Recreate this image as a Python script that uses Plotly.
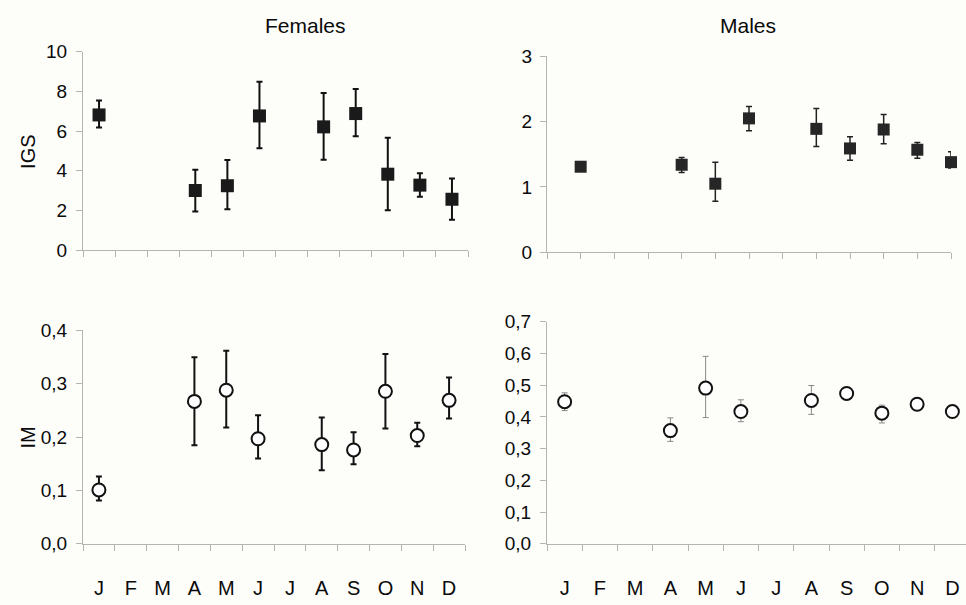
import plotly.graph_objects as go

months = ["J", "F", "M", "A", "M", "J", "J", "A", "S", "O", "N", "D"]
month_idx = [1, 2, 3, 4, 5, 6, 7, 8, 9, 10, 11, 12]

# Females IGS (Jan, Apr-Jun, Aug-Dec)
f_igs_x = [1, 4, 5, 6, 8, 9, 10, 11, 12]
f_igs = [6.81, 3.01, 3.25, 6.76, 6.21, 6.88, 3.83, 3.28, 2.57]
f_igs_hi = [7.54, 4.06, 4.55, 8.48, 7.91, 8.11, 5.66, 3.88, 3.62]
f_igs_lo = [6.18, 1.96, 2.07, 5.13, 4.56, 5.74, 2.02, 2.69, 1.54]

# Males IGS
m_igs_x = [1, 4, 5, 6, 8, 9, 10, 11, 12]
m_igs = [1.31, 1.34, 1.05, 2.05, 1.89, 1.59, 1.88, 1.57, 1.38]
m_igs_hi = [1.36, 1.45, 1.38, 2.23, 2.20, 1.77, 2.11, 1.68, 1.54]
m_igs_lo = [1.26, 1.22, 0.78, 1.86, 1.62, 1.41, 1.66, 1.44, 1.29]

# Females IM
f_im_x = [1, 4, 5, 6, 8, 9, 10, 11, 12]
f_im = [0.101, 0.267, 0.288, 0.197, 0.186, 0.176, 0.286, 0.203, 0.269]
f_im_hi = [0.126, 0.350, 0.362, 0.241, 0.237, 0.209, 0.356, 0.227, 0.312]
f_im_lo = [0.081, 0.185, 0.218, 0.160, 0.138, 0.149, 0.216, 0.183, 0.235]

# Males IM
m_im_x = [1, 4, 5, 6, 8, 9, 10, 11, 12]
m_im = [0.448, 0.357, 0.491, 0.417, 0.452, 0.474, 0.412, 0.440, 0.417]
m_im_hi = [0.476, 0.397, 0.591, 0.454, 0.499, 0.484, 0.437, 0.450, 0.427]
m_im_lo = [0.420, 0.323, 0.398, 0.385, 0.408, 0.464, 0.381, 0.430, 0.407]

f_igs_ticks = [0, 2, 4, 6, 8, 10]
m_igs_ticks = [0, 1, 2, 3]
f_im_ticks = [0.0, 0.1, 0.2, 0.3, 0.4]
m_im_ticks = [0.0, 0.1, 0.2, 0.3, 0.4, 0.5, 0.6, 0.7]


def err(vals, hi, lo):
    return dict(type="data", symmetric=False,
                array=[h - v for h, v in zip(hi, vals)],
                arrayminus=[v - l for v, l in zip(vals, lo)])


W, H = 966, 605
FONT = "Liberation Sans, Arial, sans-serif"
AX = "#b4b4b4"
BG = "#fdfdfa"
TXT = "#0a0a0a"

fig = go.Figure()

e = err(f_igs, f_igs_hi, f_igs_lo)
e.update(color="#111", thickness=2, width=3)
fig.add_trace(go.Scatter(x=f_igs_x, y=f_igs, mode="markers", xaxis="x", yaxis="y",
                         marker=dict(symbol="square", size=13, color="#1a1a1a"),
                         error_y=e, showlegend=False, cliponaxis=False))

e = err(m_igs, m_igs_hi, m_igs_lo)
e.update(color="#222", thickness=1.5, width=3)
fig.add_trace(go.Scatter(x=m_igs_x, y=m_igs, mode="markers", xaxis="x2", yaxis="y2",
                         marker=dict(symbol="square", size=12, color="#262626"),
                         error_y=e, showlegend=False, cliponaxis=False))

e = err(f_im, f_im_hi, f_im_lo)
e.update(color="#111", thickness=2, width=3)
fig.add_trace(go.Scatter(x=f_im_x, y=f_im, mode="markers", xaxis="x3", yaxis="y3",
                         marker=dict(symbol="circle", size=13, color="white",
                                     line=dict(color="#111", width=2)),
                         error_y=e, showlegend=False, cliponaxis=False))

e = err(m_im, m_im_hi, m_im_lo)
e.update(color="#888", thickness=1, width=3)
fig.add_trace(go.Scatter(x=m_im_x, y=m_im, mode="markers", xaxis="x4", yaxis="y4",
                         marker=dict(symbol="circle", size=13, color="white",
                                     line=dict(color="#111", width=2)),
                         error_y=e, showlegend=False, cliponaxis=False))


def px_x(a, b):
    return [a / W, b / W]


def px_y(top, bottom):
    return [1 - bottom / H, 1 - top / H]


tickfont = dict(family=FONT, size=19, color=TXT)
monthfont = dict(family=FONT, size=20, color=TXT)
bounds = [m - 0.5 for m in month_idx] + [12.5]

common_x = dict(showline=True, linecolor=AX, linewidth=1, showgrid=False, zeroline=False,
                fixedrange=True)
common_y = dict(showline=True, linecolor=AX, linewidth=1, showgrid=False, zeroline=False,
                ticks="outside", tickcolor=AX, ticklen=6, tickfont=tickfont, fixedrange=True)

fig.update_layout(
    width=W, height=H, margin=dict(l=0, r=0, t=0, b=0),
    paper_bgcolor=BG, plot_bgcolor=BG,
    font=dict(family=FONT, color=TXT),
    xaxis=dict(domain=px_x(83, 468), range=[0.5, 12.5], anchor="y",
               tickvals=bounds, showticklabels=False,
               ticks="outside", tickcolor=AX, ticklen=6, **common_x),
    yaxis=dict(domain=px_y(43, 249), range=[0, 10], anchor="x",
               tickvals=f_igs_ticks, ticklabelstandoff=5, **common_y),
    xaxis2=dict(domain=px_x(547, 951), range=[0, 12], anchor="y2",
                tickvals=[0] + month_idx, showticklabels=False,
                ticks="outside", tickcolor=AX, ticklen=6, **common_x),
    yaxis2=dict(domain=px_y(48, 251), range=[0, 3], anchor="x2",
                tickvals=m_igs_ticks, ticklabelstandoff=4, **common_y),
    xaxis3=dict(domain=px_x(83, 465), range=[0.5, 12.5], anchor="y3",
                tickvals=month_idx, ticktext=months, tickfont=monthfont,
                ticklabelstandoff=26, ticks="",
                minor=dict(tickvals=bounds, ticks="outside", ticklen=6, tickcolor=AX),
                **common_x),
    yaxis3=dict(domain=px_y(332, 553), range=[0, 0.4], anchor="x3",
                tickvals=f_im_ticks, ticktext=["0,0", "0,1", "0,2", "0,3", "0,4"],
                ticklabelstandoff=5, **common_y),
    xaxis4=dict(domain=px_x(547, 966), range=[0.5, 0.5 + 419 / 35.25], anchor="y4",
                tickvals=month_idx, ticktext=months, tickfont=monthfont,
                ticklabelstandoff=26, ticks="",
                minor=dict(tickvals=bounds, ticks="outside", ticklen=6, tickcolor=AX),
                **common_x),
    yaxis4=dict(domain=px_y(323, 553), range=[0, 0.7], anchor="x4",
                tickvals=m_im_ticks,
                ticktext=["0,0", "0,1", "0,2", "0,3", "0,4", "0,5", "0,6", "0,7"],
                ticklabelstandoff=5, **common_y),
)

ann = [
    dict(text="Females", x=305 / W, y=1 - 16 / H, font=dict(size=21, family=FONT, color=TXT)),
    dict(text="Males", x=748 / W, y=1 - 16 / H, font=dict(size=21, family=FONT, color=TXT)),
    dict(text="IGS", x=28 / W, y=1 - 147 / H, textangle=-90, font=dict(size=20, family=FONT, color=TXT)),
    dict(text="IM", x=28 / W, y=1 - 443 / H, textangle=-90, font=dict(size=20, family=FONT, color=TXT)),
]
for a in ann:
    fig.add_annotation(xref="paper", yref="paper", showarrow=False,
                       xanchor="center", yanchor="middle", **a)

fig.write_html("out.html")
